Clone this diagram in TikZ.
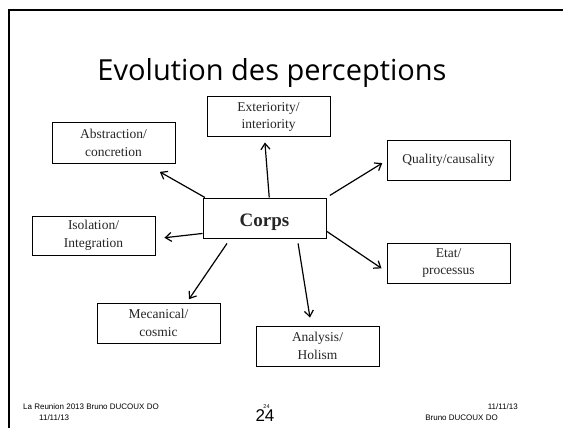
\documentclass[tikz,border=0pt]{standalone}
\usepackage{fontspec}
\setmainfont{Liberation Serif}
\newfontfamily\titlefont{Open Sans}
\newfontfamily\footfont{Liberation Sans}
\usetikzlibrary{arrows.meta}

\begin{document}
\begin{tikzpicture}[x=1pt,y=-1pt,
  box/.style={draw,line width=1pt,minimum width=123pt,minimum height=40pt,
              inner sep=1pt,align=center,text=black!85,
              font=\fontsize{13.5}{17.5}\selectfont},
  arr/.style={line width=1.2pt,-{Straight Barb[length=6pt,width=9pt]}},
  foot/.style={inner sep=0pt,font=\footfont\fontsize{8}{10}\selectfont}]
\fill[white] (0,0) rectangle (563,428);
\useasboundingbox (0,0) rectangle (563,428);
\draw[line width=2pt] (9,428) -- (9,10) -- (563,10);
\node[anchor=base,font=\titlefont\fontsize{29}{31}\selectfont] (title) at (272,81) {Evolution des perceptions};
% boxes
\node[box,text height=16pt,text depth=0pt] (corps) at (264.5,218) {\fontsize{19}{20}\selectfont\bfseries Corps};
\node[box] (ext) at (268.5,117) {Exteriority/\\interiority};
\node[box] (abs) at (113.5,143) {Abstraction/\\concretion};
\node[box,minimum height=39pt] (qual) at (448.5,160.5) {Quality/causality};
\node[box,minimum height=39pt] (iso) at (93.5,235.5) {Isolation/\\Integration};
\node[box] (etat) at (448.5,263) {Etat/\\processus};
\node[box] (meca) at (158.5,323) {Mecanical/\\cosmic};
\node[box] (ana) at (317.5,346) {Analysis/\\Holism};
% arrows
\draw[arr,shorten >=17pt] (corps.161) -- (abs.-33);
\draw[arr,shorten >=5pt] (corps.77) -- (ext.-101);
\draw[arr,shorten <=4pt,shorten >=5pt] (corps.north east) -- (qual.west);
\draw[arr,shorten >=9pt] (corps.194) -- (iso.-3);
\draw[arr,shorten >=6pt] (corps.-12) -- (etat.188);
\draw[arr,shorten <=6pt,shorten >=4pt] (corps.211) -- (meca.36);
\draw[arr,shorten <=5pt,shorten >=8pt] (corps.-32) -- (ana.107);
% footer
\node[foot,anchor=base west] (f1) at (23,409.5) {La Reunion 2013 Bruno DUCOUX DO};
\node[foot,anchor=base west] (f2) at (39,420) {11/11/13};
\node[foot,anchor=base,font=\footfont\fontsize{5.5}{6}\selectfont] (p1) at (266.5,408) {24};
\node[foot,anchor=base,font=\footfont\fontsize{17}{18}\selectfont] (p2) at (265,421) {24};
\node[foot,anchor=base east] (f3) at (518,409) {11/11/13};
\node[foot,anchor=base east] (f4) at (498,420) {Bruno DUCOUX DO};
\end{tikzpicture}
\end{document}
